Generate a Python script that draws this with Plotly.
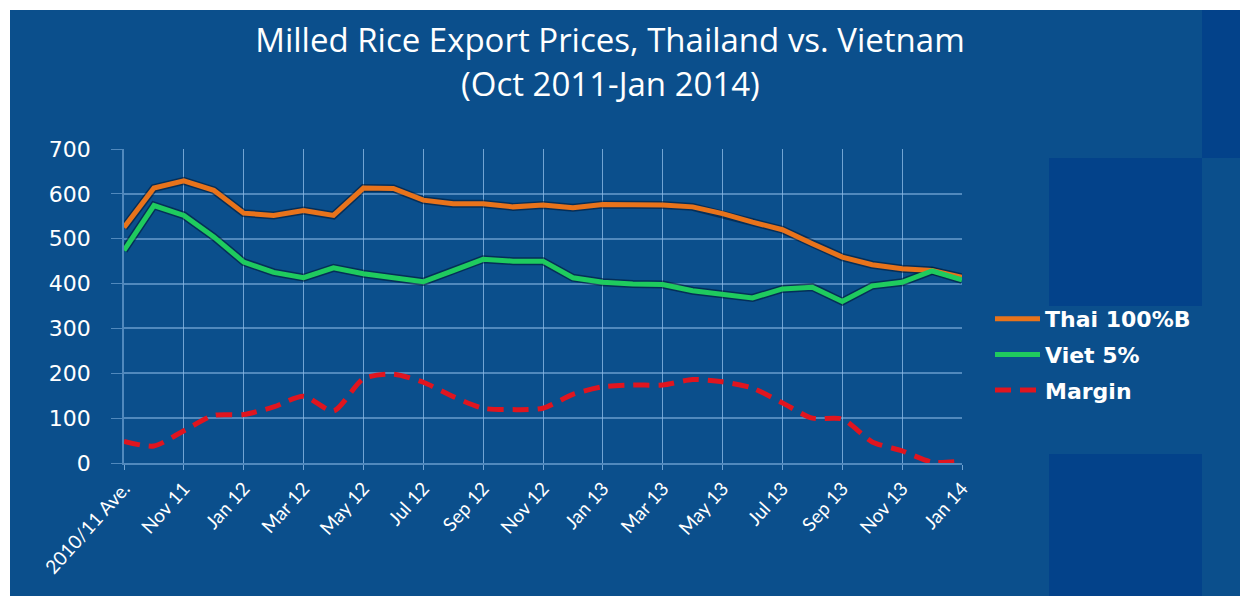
import plotly.graph_objects as go

categories = ["2010/11 Ave.", "Oct 11", "Nov 11", "Dec 11",
              "Jan 12", "Feb 12", "Mar 12", "Apr 12", "May 12", "Jun 12",
              "Jul 12", "Aug 12", "Sep 12", "Oct 12", "Nov 12", "Dec 12",
              "Jan 13", "Feb 13", "Mar 13", "Apr 13", "May 13", "Jun 13",
              "Jul 13", "Aug 13", "Sep 13", "Oct 13", "Nov 13", "Dec 13",
              "Jan 14"]
thai_100b = [525, 613, 629, 608, 557, 552, 563, 552, 613, 612,
             586, 578, 578, 571, 575, 569, 576, 576, 575, 571,
             556, 537, 520, 489, 459, 442, 433, 429, 414]
viet_5 = [474, 574, 552, 504, 448, 425, 413, 435, 422, 413,
          404, 429, 454, 450, 450, 413, 403, 399, 398, 384,
          377, 368, 388, 392, 360, 395, 403, 428, 408]
margin = [48, 38, 72, 106, 108, 125, 149, 116, 188, 198,
          180, 148, 122, 119, 122, 153, 170, 174, 174, 186,
          181, 167, 134, 100, 98, 47, 27, 2, 4]
y_ticks = [0, 100, 200, 300, 400, 500, 600, 700]
shown_labels = categories[0::2]
title_line1 = "Milled Rice Export Prices, Thailand vs. Vietnam"
title_line2 = "(Oct 2011-Jan 2014)"

BG = "#0B4F8C"
DARK = "#03428A"
GRID = "rgba(140,185,230,0.55)"

# the page body has an 8px margin: figure covers page pixels 8..1248 / 8..596
OFF = 8
W, H = 1248 - OFF, 596 - OFF
L, R, T, B = 124 - OFF, 962 - OFF, 149 - OFF, 463 - OFF


def px(x):  # page pixel -> paper x
    return (x - OFF - L) / (R - L)


def py(y):  # page pixel -> paper y
    return (B - (y - OFF)) / (B - T)


fig = go.Figure()
# soft shadows under the solid lines
for vals in (thai_100b, viet_5):
    fig.add_trace(go.Scatter(x=categories, y=vals, mode="lines",
                             line=dict(color="rgba(0,20,45,0.55)", width=8),
                             showlegend=False, hoverinfo="skip"))
fig.add_trace(go.Scatter(x=categories, y=thai_100b, mode="lines",
                         name="<b>Thai 100%B</b>", legendgroup="a",
                         line=dict(color="#E8731B", width=5)))
fig.add_trace(go.Scatter(x=categories, y=viet_5, mode="lines",
                         name="<b>Viet 5%</b>", legendgroup="b",
                         line=dict(color="#1FCB5E", width=5)))
fig.add_trace(go.Scatter(x=categories, y=margin, mode="lines",
                         name="<b>Margin</b>", legendgroup="c",
                         line=dict(color="#E0151F", width=5, dash="16px,9px",
                                   shape="spline", smoothing=0.7)))


def rect(x0, x1, y0, y1, color):
    return dict(type="rect", xref="paper", yref="paper",
                x0=px(x0), x1=px(x1), y0=py(y1), y1=py(y0),
                fillcolor=color, line_width=0, layer="below")


shapes = [
    rect(0, 1248, 0, 10, "white"),
    rect(0, 10, 0, 596, "white"),
    rect(1202, 1248, 10, 158, DARK),
    rect(1049, 1202, 158, 306, DARK),
    rect(1049, 1202, 454, 596, DARK),
]

fig.update_layout(
    width=W, height=H,
    margin=dict(l=L, r=W - R, t=T, b=H - B),
    paper_bgcolor=BG, plot_bgcolor="rgba(0,0,0,0)",
    shapes=shapes,
    title=dict(text=title_line1, xref="container", yref="container",
               x=(610 - OFF) / W, xanchor="center",
               y=1 - (40 - OFF) / H, yanchor="middle",
               font=dict(family="Open Sans", size=33, color="white")),
    annotations=[dict(text=title_line2, xref="paper", yref="paper",
                      x=px(610), y=py(83), xanchor="center", yanchor="middle",
                      showarrow=False,
                      font=dict(family="Open Sans", size=33, color="white"))],
    showlegend=True,
    legend=dict(x=px(990), y=py(298), xanchor="left", yanchor="top",
                bgcolor="rgba(0,0,0,0)", traceorder="grouped",
                font=dict(family="DejaVu Sans", size=22, color="white"),
                tracegroupgap=4, itemwidth=45),
    xaxis=dict(type="category", range=[0, len(categories) - 1],
               tickmode="array", tickvals=shown_labels, ticktext=shown_labels,
               tickangle=-48, tickfont=dict(family="Lato", size=19, color="white"),
               showgrid=True, gridcolor=GRID, gridwidth=1,
               ticks="outside", ticklen=5, tickcolor=GRID,
               showline=True, linecolor=GRID, linewidth=2, zeroline=False),
    yaxis=dict(range=[0, 700], tickvals=y_ticks,
               tickfont=dict(family="DejaVu Sans", size=22, color="white"),
               showgrid=True, gridcolor=GRID, gridwidth=1.5,
               ticks="outside", ticklen=11, tickcolor=GRID,
               ticklabelstandoff=16,
               showline=True, linecolor=GRID, linewidth=1.5, zeroline=False),
)
# vertical grid lines at every month
fig.update_xaxes(minor=dict(showgrid=True, gridcolor=GRID, gridwidth=1,
                            ticks="outside", ticklen=5, tickcolor=GRID))

fig.write_html("out.html")
